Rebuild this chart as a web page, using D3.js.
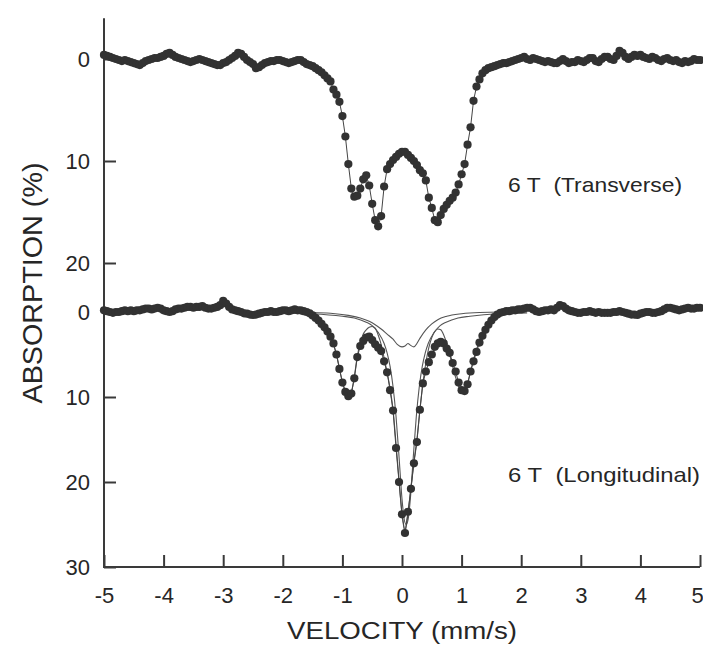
<!DOCTYPE html>
<html><head><meta charset="utf-8">
<script src="https://cdn.jsdelivr.net/npm/d3@7"></script>
<style>html,body{margin:0;padding:0;background:#fff;} svg{display:block;}</style>
</head><body><svg id="chart" width="703" height="646"></svg>
<script>
// Mössbauer channels (mm/s)
const velocity = [
-5,-4.95,-4.9,-4.85,-4.8,-4.75,-4.7,-4.65,-4.6,-4.55,
-4.5,-4.45,-4.4,-4.35,-4.3,-4.25,-4.2,-4.15,-4.1,-4.05,
-4,-3.95,-3.9,-3.85,-3.8,-3.75,-3.7,-3.65,-3.6,-3.55,
-3.5,-3.45,-3.4,-3.35,-3.3,-3.25,-3.2,-3.15,-3.1,-3.05,
-3,-2.95,-2.9,-2.85,-2.8,-2.75,-2.7,-2.65,-2.6,-2.55,
-2.5,-2.45,-2.4,-2.35,-2.3,-2.25,-2.2,-2.15,-2.1,-2.05,
-2,-1.95,-1.9,-1.85,-1.8,-1.75,-1.7,-1.65,-1.6,-1.55,
-1.5,-1.45,-1.4,-1.35,-1.3,-1.25,-1.2,-1.15,-1.1,-1.05,
-1,-0.95,-0.9,-0.85,-0.8,-0.75,-0.7,-0.65,-0.6,-0.55,
-0.5,-0.45,-0.4,-0.35,-0.3,-0.25,-0.2,-0.15,-0.1,-0.05,
0,0.05,0.1,0.15,0.2,0.25,0.3,0.35,0.4,0.45,
0.5,0.55,0.6,0.65,0.7,0.75,0.8,0.85,0.9,0.95,
1,1.05,1.1,1.15,1.2,1.25,1.3,1.35,1.4,1.45,
1.5,1.55,1.6,1.65,1.7,1.75,1.8,1.85,1.9,1.95,
2,2.05,2.1,2.15,2.2,2.25,2.3,2.35,2.4,2.45,
2.5,2.55,2.6,2.65,2.7,2.75,2.8,2.85,2.9,2.95,
3,3.05,3.1,3.15,3.2,3.25,3.3,3.35,3.4,3.45,
3.5,3.55,3.6,3.65,3.7,3.75,3.8,3.85,3.9,3.95,
4,4.05,4.1,4.15,4.2,4.25,4.3,4.35,4.4,4.45,
4.5,4.55,4.6,4.65,4.7,4.75,4.8,4.85,4.9,4.95,
5];

// Absorption (%) — 6 T transverse
const transverse = [
-0.4,-0.3,-0.2,-0.1,0.0,0.1,0.2,0.1,0.2,0.3,
0.4,0.5,0.6,0.4,0.2,0.1,0.0,-0.1,-0.1,-0.2,
-0.3,-0.5,-0.6,-0.4,-0.2,-0.1,0.0,0.1,0.2,0.3,
0.2,0.1,0.0,0.1,0.2,0.3,0.4,0.5,0.6,0.6,
0.4,0.3,0.1,-0.1,-0.3,-0.6,-0.5,-0.2,0.1,0.3,
0.5,0.9,0.8,0.6,0.4,0.3,0.2,0.2,0.1,0.1,
0.2,0.3,0.4,0.3,0.2,0.1,0.1,0.3,0.5,0.6,
0.7,0.9,1.1,1.3,1.6,1.9,2.2,3.0,3.5,4.2,
5.6,7.6,10.3,12.7,13.5,13.4,12.7,11.8,11.4,12.4,
14.2,15.8,16.4,15.4,12.5,10.8,10.3,9.9,9.6,9.3,
9.1,9.1,9.4,9.7,10.0,10.4,10.9,11.2,11.9,13.6,
14.6,15.8,16.0,15.3,14.7,14.3,13.9,13.6,13.1,12.3,
11.3,10.3,8.4,6.7,4.1,2.7,2.0,1.4,1.1,0.9,
0.8,0.7,0.6,0.5,0.4,0.4,0.3,0.2,0.1,0.0,
-0.1,-0.2,0.0,0.1,-0.1,0.0,0.1,0.2,0.3,0.2,
0.3,0.4,0.4,0.2,0.0,0.2,0.4,0.3,0.3,0.1,
0.2,0.3,0.1,-0.1,-0.1,0.2,0.3,0.0,-0.2,-0.2,
0.0,0.1,-0.3,-0.8,-0.6,-0.2,0.0,-0.2,-0.4,-0.3,
-0.4,-0.2,-0.1,0.0,-0.2,-0.1,0.1,0.2,0.0,-0.1,
0.1,0.2,0.1,0.3,0.4,0.2,0.3,0.2,0.0,0.1,
0.1];

// Absorption (%) — 6 T longitudinal
const longitudinal = [
-0.2,-0.1,0.0,0.1,0.0,0.0,-0.1,-0.2,-0.1,-0.2,
-0.1,-0.2,-0.2,-0.3,-0.4,-0.4,-0.3,-0.4,-0.5,-0.4,
-0.2,-0.1,0.0,-0.1,-0.3,-0.4,-0.4,-0.5,-0.6,-0.6,
-0.5,-0.6,-0.6,-0.7,-0.5,-0.4,-0.4,-0.5,-0.6,-0.8,
-1.3,-1.0,-0.6,-0.3,-0.2,-0.1,0.0,0.15,0.2,0.3,
0.35,0.3,0.2,0.1,0.0,0.0,-0.1,0.0,0.0,-0.1,
-0.2,-0.2,-0.1,-0.2,-0.3,-0.2,-0.2,-0.1,0.0,0.15,
0.4,0.7,1.0,1.4,1.8,2.3,2.9,3.7,5.0,6.7,
8.3,9.4,9.9,9.6,7.8,5.3,4.0,3.4,3.0,2.9,
3.3,3.8,4.2,4.6,5.8,7.1,9.2,11.6,16.0,20.0,
23.8,26.0,23.5,20.8,17.8,15.3,11.5,8.4,7.0,5.9,
5.0,4.1,3.7,3.5,3.7,4.3,4.8,6.0,7.0,8.3,
9.2,9.3,8.5,7.0,5.8,4.7,3.6,2.8,2.1,1.5,
1.0,0.6,0.3,0.1,0.0,-0.1,-0.1,-0.2,-0.2,-0.3,
-0.3,-0.4,-0.5,-0.5,-0.3,-0.1,0.0,-0.1,-0.2,-0.2,
-0.3,-0.2,-0.5,-0.8,-0.7,-0.4,-0.2,-0.1,0.0,0.1,
0.1,0.0,0.0,-0.1,0.0,0.1,0.0,0.1,0.1,0.1,
0.1,0.0,0.0,-0.1,0.0,0.1,0.2,0.3,0.3,0.35,
0.2,0.1,0.0,0.0,0.1,0.1,0.0,-0.1,-0.3,-0.5,
-0.5,-0.4,-0.3,-0.2,-0.3,-0.4,-0.5,-0.4,-0.4,-0.5,
-0.5];

// Fitted curves (longitudinal)
const fitTotalV = [-2.0,-1.6,-1.4,-1.3,-1.2,-1.1,-1.0,-0.95,-0.9,-0.85,-0.8,-0.75,-0.7,-0.65,-0.6,-0.55,-0.5,-0.45,-0.4,-0.35,-0.3,-0.25,-0.2,-0.15,-0.1,-0.05,0.0,0.05,0.1,0.15,0.2,0.25,0.3,0.35,0.4,0.45,0.5,0.55,0.6,0.65,0.7,0.75,0.8,0.85,0.9,0.95,1.0,1.05,1.1,1.15,1.2,1.3,1.4,1.5,1.6,1.8,2.0];
const fitTotalA = [0,0.3,1.0,1.8,2.9,5.0,8.2,9.3,9.8,9.4,7.6,5.2,3.6,2.6,2.1,1.8,1.7,1.9,2.7,3.8,5.4,7.1,9.0,11.5,15.5,19.8,23.8,25.8,23.8,20.6,17.6,15.0,11.6,8.4,6.0,4.2,3.0,2.3,2.0,2.1,2.7,3.7,5.0,6.4,7.7,8.7,9.2,9.2,8.4,7.0,5.6,3.4,1.9,0.9,0.3,0.05,0];
const fitCentralV = [-2.0,-1.5,-1.0,-0.8,-0.6,-0.5,-0.4,-0.3,-0.25,-0.2,-0.15,-0.1,-0.05,0.0,0.04,0.07,0.1,0.14,0.19,0.24,0.29,0.34,0.39,0.44,0.54,0.64,0.74,0.94,1.14,1.6,2.1];
const fitCentralA = [0.1,0.2,0.5,0.7,1.2,1.6,2.4,3.7,4.8,6.4,8.8,12.3,17.0,22.0,24.5,25.0,24.5,22.0,17.0,12.3,8.8,6.4,4.8,3.7,2.4,1.6,1.2,0.7,0.5,0.2,0.1];
const fitBroadV = [-2.0,-1.6,-1.2,-0.9,-0.7,-0.55,-0.45,-0.35,-0.25,-0.15,-0.08,0.0,0.05,0.1,0.14,0.2,0.25,0.3,0.4,0.5,0.6,0.75,1.0,1.3,1.7];
const fitBroadA = [0,0.05,0.15,0.4,0.7,1.1,1.5,2.0,2.6,3.2,3.8,4.1,4.0,3.7,3.9,4.1,3.7,3.1,2.1,1.4,0.9,0.5,0.2,0.05,0];

const xTicks = [-5,-4,-3,-2,-1,0,1,2,3,4,5];
const yTopTicks = [0,10,20];
const yBotTicks = [0,10,20,30];
const xTitle = "VELOCITY (mm/s)";
const yTitle = "ABSORPTION (%)";
const labelTop = "6 T\u00A0 (Transverse)";
const labelBot = "6 T\u00A0 (Longitudinal)";

const svg = d3.select('#chart');
const ink = '#323232';
const txt = '#262626';
const FONT = "'Liberation Sans', Arial, Helvetica, sans-serif";

const x = d3.scaleLinear().domain([-5, 5]).range([104, 700]);
const yTop = d3.scaleLinear().domain([0, 20]).range([59, 263]);
const yBot = d3.scaleLinear().domain([0, 30]).range([312, 567]);

svg.append('rect').attr('width', 703).attr('height', 646).attr('fill', '#fff');

// axis frame (left + bottom)
svg.append('path')
  .attr('d', `M${x(-5)},${yTop(-4)}V${yBot(30)}H${x(5)}`)
  .attr('fill', 'none').attr('stroke', '#3a3a3a').attr('stroke-width', 2);

function styleAxis(g) {
  g.select('.domain').remove();
  g.selectAll('.tick line').attr('stroke', '#3a3a3a').attr('stroke-width', 2);
  g.selectAll('.tick text').attr('fill', txt)
    .style('font-family', FONT).style('font-size', '22px');
}

const gx = svg.append('g').attr('transform', `translate(0,${yBot(30)})`)
  .call(d3.axisBottom(x).tickValues(xTicks).tickSize(-12).tickPadding(20).tickFormat(d => String(d)))
  .call(styleAxis);
gx.selectAll('.tick text').filter(d => d === 5).attr('dx', -3);
svg.append('g').attr('transform', `translate(${x(-5)},0)`)
  .call(d3.axisLeft(yTop).tickValues(yTopTicks).tickSize(-12).tickPadding(14).tickFormat(d => String(d)))
  .call(styleAxis);
svg.append('g').attr('transform', `translate(${x(-5)},0)`)
  .call(d3.axisLeft(yBot).tickValues(yBotTicks).tickSize(-12).tickPadding(14).tickFormat(d => String(d)))
  .call(styleAxis);

// fitted curves
const fitLine = d3.line().x(d => x(d[0])).y(d => yBot(d[1])).curve(d3.curveMonotoneX);
[[fitBroadV, fitBroadA], [fitCentralV, fitCentralA], [fitTotalV, fitTotalA]].forEach(([vv, aa]) => {
  svg.append('path').datum(vv.map((v, i) => [v, aa[i]]))
    .attr('d', fitLine).attr('fill', 'none').attr('stroke', '#555').attr('stroke-width', 1.1);
});

// data
function drawSeries(values, yScale) {
  const pts = velocity.map((v, i) => [v, values[i]]);
  svg.append('path').datum(pts)
    .attr('d', d3.line().x(d => x(d[0])).y(d => yScale(d[1])))
    .attr('fill', 'none').attr('stroke', '#444').attr('stroke-width', 1);
  svg.append('g').selectAll('circle').data(pts).join('circle')
    .attr('cx', d => x(d[0])).attr('cy', d => yScale(d[1])).attr('r', 4.1)
    .attr('fill', ink);
}
drawSeries(transverse, yTop);
drawSeries(longitudinal, yBot);

// annotations
svg.append('text').attr('x', x(1.78)).attr('y', yTop(13.0))
  .attr('textLength', 174).attr('lengthAdjust', 'spacingAndGlyphs')
  .style('font-family', FONT).style('font-size', '21px').attr('fill', txt).text(labelTop);
svg.append('text').attr('x', x(1.78)).attr('y', yBot(20.0))
  .attr('textLength', 192).attr('lengthAdjust', 'spacingAndGlyphs')
  .style('font-family', FONT).style('font-size', '21px').attr('fill', txt).text(labelBot);

// axis titles
svg.append('text').attr('x', 402).attr('y', 639).attr('text-anchor', 'middle')
  .attr('textLength', 230).attr('lengthAdjust', 'spacingAndGlyphs')
  .style('font-family', FONT).style('font-size', '23px').attr('fill', txt).text(xTitle);
svg.append('text').attr('transform', 'translate(42,283) rotate(-90)').attr('text-anchor', 'middle')
  .attr('textLength', 241).attr('lengthAdjust', 'spacingAndGlyphs')
  .style('font-family', FONT).style('font-size', '28px').attr('fill', txt).text(yTitle);
</script></body></html>
